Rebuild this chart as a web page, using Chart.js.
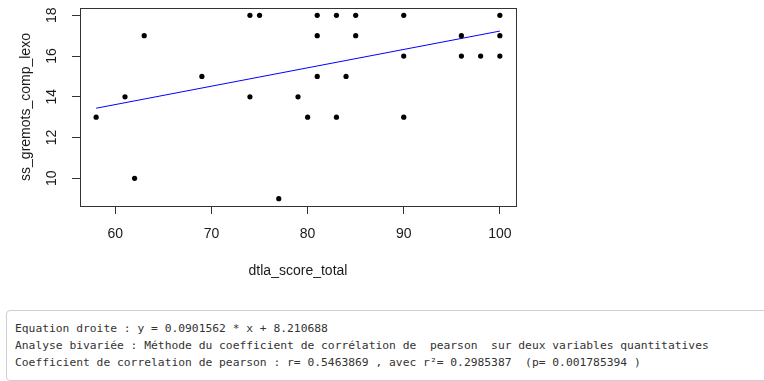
<!DOCTYPE html>
<html>
<head>
<meta charset="utf-8">
<script src="https://cdn.jsdelivr.net/npm/chart.js@4/dist/chart.umd.min.js"></script>
<style>
  body { margin: 0; background: #fff; width: 764px; height: 381px; overflow: hidden; position: relative; }
  #plot { position: absolute; left: 0; top: 0; }
  .output {
    position: absolute; left: 6px; top: 310px; width: 790px; height: 69px;
    border: 1px solid #cfcfcf; border-radius: 4px; background: #fff;
    box-sizing: content-box;
    font-family: "DejaVu Sans Mono", "Liberation Mono", monospace;
    font-size: 11.3px; line-height: 17px; color: #333;
    padding: 0;
  }
  .output div { padding-left: 8px; white-space: pre; }
  .output div:first-child { margin-top: 9px; }
</style>
</head>
<body>
<canvas id="plot" width="764" height="300"></canvas>
<div class="output">
  <div>Equation droite : y = 0.0901562 * x + 8.210688</div>
  <div>Analyse bivariée : Méthode du coefficient de corrélation de  pearson  sur deux variables quantitatives</div>
  <div>Coefficient de correlation de pearson : r= 0.5463869 , avec r²= 0.2985387  (p= 0.001785394 )</div>
</div>
<script>
// values
var scoreTotal = [58, 61, 62, 63, 69, 74, 74, 75, 77, 79, 80, 81, 81, 81, 83, 83, 84, 85, 85, 90, 90, 90, 96, 96, 98, 100, 100, 100];
var gremotsLexo = [13, 14, 10, 17, 15, 18, 14, 18, 9, 14, 13, 18, 17, 15, 18, 13, 15, 18, 17, 18, 16, 13, 17, 16, 16, 18, 17, 16];
var xTicks = [60, 70, 80, 90, 100];
var yTicks = [10, 12, 14, 16, 18];
var slope = 0.0901562;
var intercept = 8.210688;

var points = scoreTotal.map(function (x, i) {
  return { x: x, y: gremotsLexo[i] };
});

var xMin = Math.min.apply(null, scoreTotal);
var xMax = Math.max.apply(null, scoreTotal);
var yMin = Math.min.apply(null, gremotsLexo);
var yMax = Math.max.apply(null, gremotsLexo);
// R pads the data range by 4% on each side
var xPad = (xMax - xMin) * 0.04;
var yPad = (yMax - yMin) * 0.04;

var fitLine = [xMin, xMax].map(function (x) {
  return { x: x, y: intercept + slope * x };
});

var tickFont = { family: 'Liberation Sans, Arial, sans-serif', size: 14 };

var frame = {
  id: 'frame',
  afterDraw: function (chart) {
    let ctx = chart.ctx;
    let a = chart.chartArea;
    ctx.save();
    ctx.strokeStyle = '#333';
    ctx.lineWidth = 1;
    ctx.strokeRect(Math.round(a.left) + 0.5, Math.round(a.top) + 0.5,
      Math.round(a.right - a.left), Math.round(a.bottom - a.top));

    // y tick labels, parallel to the axis like R does
    let ys = chart.scales.y;
    ctx.fillStyle = '#1a1a1a';
    ctx.font = '14px Liberation Sans, Arial, sans-serif';
    ctx.textAlign = 'center';
    ctx.textBaseline = 'middle';
    ys.ticks.forEach(function (t) {
      let py = ys.getPixelForValue(t.value);
      ctx.save();
      ctx.translate(52, py);
      ctx.rotate(-Math.PI / 2);
      ctx.fillText(String(t.value), 0, 0);
      ctx.restore();
    });
    ctx.restore();
  }
};

var ctx = document.getElementById('plot').getContext('2d');
var chart = new Chart(ctx, {
  type: 'scatter',
  data: {
    datasets: [{
      label: 'points',
      data: points,
      backgroundColor: '#000',
      borderWidth: 0,
      pointRadius: 2.6,
      pointHoverRadius: 2.6
    }, {
      label: 'droite',
      data: fitLine,
      showLine: true,
      borderColor: '#0000ff',
      borderWidth: 1,
      pointRadius: 0
    }]
  },
  options: {
    responsive: false,
    animation: false,
    devicePixelRatio: 1,
    layout: { padding: { left: 0, top: 8, right: 248, bottom: 0 } },
    plugins: { legend: { display: false }, tooltip: { enabled: false } },
    scales: {
      x: {
        type: 'linear',
        min: xMin - xPad,
        max: xMax + xPad,
        afterBuildTicks: function (scale) {
          scale.ticks = xTicks.map(function (v) { return { value: v }; });
        },
        afterFit: function (scale) { scale.height = 94; },
        grid: { drawOnChartArea: false, drawTicks: true, tickLength: 8, color: '#333' },
        border: { display: false },
        ticks: { font: tickFont, color: '#1a1a1a', padding: 12, maxRotation: 0, includeBounds: false },
        title: {
          display: true,
          text: 'dtla_score_total',
          font: tickFont,
          color: '#1a1a1a',
          padding: { top: 0, bottom: 20 }
        }
      },
      y: {
        type: 'linear',
        min: yMin - yPad,
        max: yMax + yPad,
        afterBuildTicks: function (scale) {
          scale.ticks = yTicks.map(function (v) { return { value: v }; });
        },
        afterFit: function (scale) { scale.width = 80; },
        grid: { drawOnChartArea: false, drawTicks: true, tickLength: 8, color: '#333' },
        border: { display: false },
        ticks: { display: false, includeBounds: false },
        title: {
          display: true,
          text: 'ss_gremots_comp_lexo',
          font: tickFont,
          color: '#1a1a1a',
          padding: { top: 18, bottom: 0 }
        }
      }
    }
  },
  plugins: [frame]
});
</script>
</body>
</html>
